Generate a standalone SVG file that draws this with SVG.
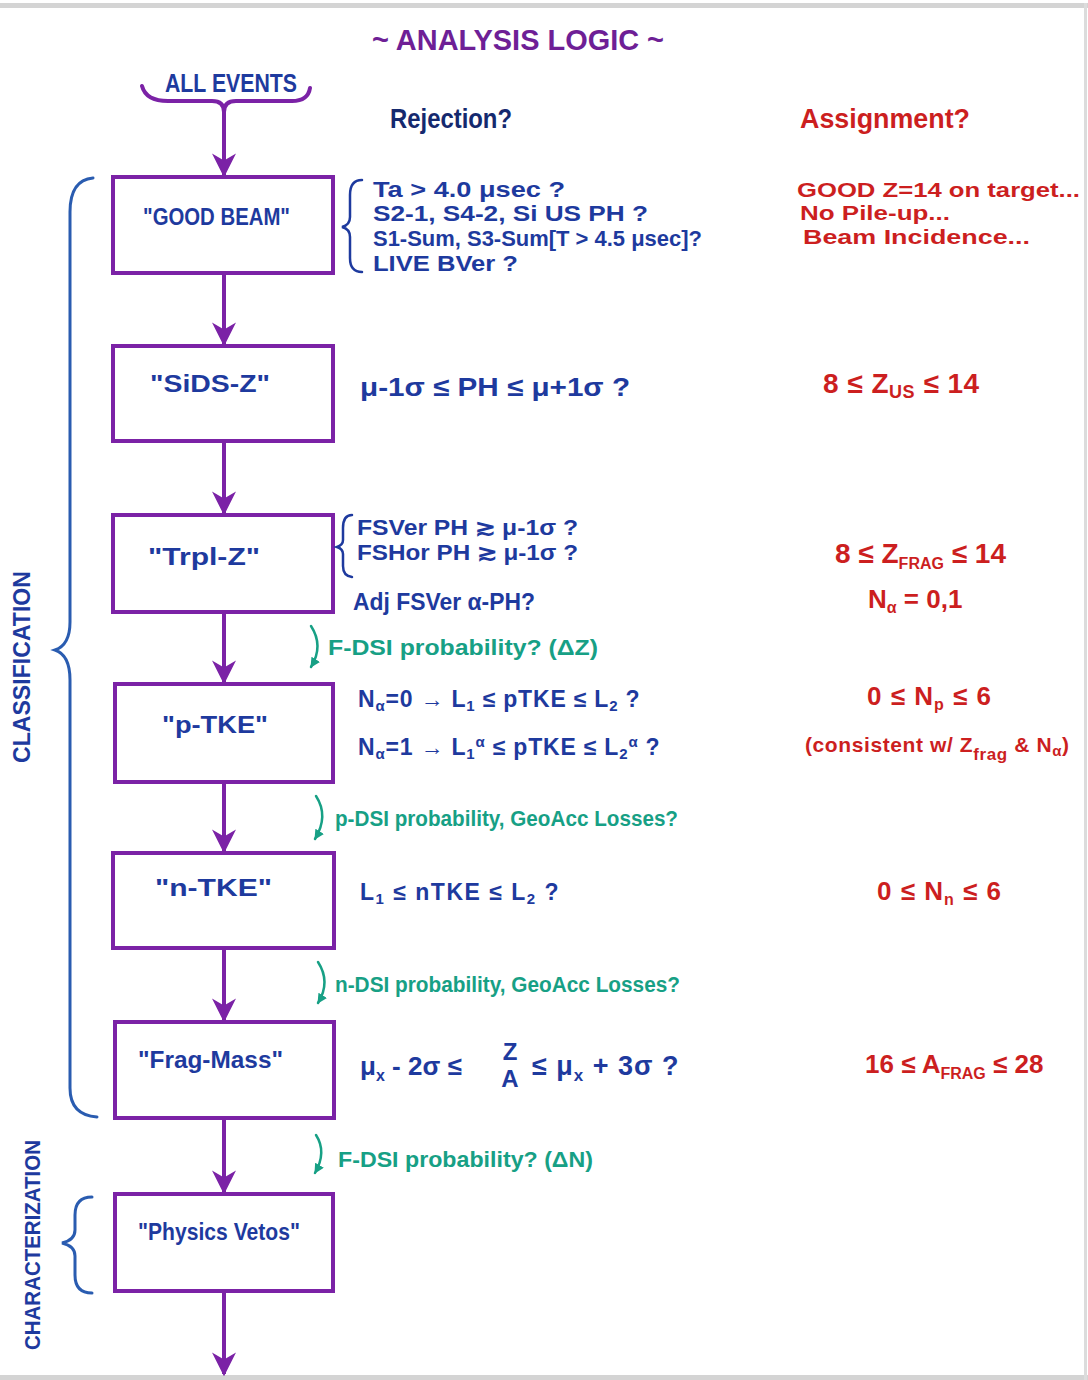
<svg xmlns="http://www.w3.org/2000/svg" width="1088" height="1380" viewBox="0 0 1088 1380">
<style>
.box{fill:#ffffff;stroke:#7b22a6;stroke-width:4}
.conn{stroke:#7b22a6;stroke-width:4;fill:none}
.t{font-family:"Liberation Sans",Arial,sans-serif;font-weight:bold}
.blue{fill:#1e3a9e}
.navy{fill:#15296e}
.red{fill:#cc1f1f}
.grn{fill:#17a085}
.purp{fill:#6e1f96}
.brace{fill:none;stroke:#2a5cb0;stroke-width:3;stroke-linecap:round}
.gcurve{fill:none;stroke:#17a085;stroke-width:2.5;stroke-linecap:round}
.rbrace{fill:none;stroke:#1e3a9e;stroke-width:2.5;stroke-linecap:round}
</style>
<defs>
<marker id="ah" viewBox="0 0 10 10" refX="9" refY="5" markerWidth="6" markerHeight="6" orient="auto" markerUnits="strokeWidth">
<path d="M0,0 L10,5 L0,10 L3,5 z" fill="#7b22a6"/>
</marker>
<marker id="gh" viewBox="0 0 10 10" refX="9" refY="5" markerWidth="4" markerHeight="4" orient="auto" markerUnits="strokeWidth">
<path d="M0,0 L10,5 L0,10 z" fill="#17a085"/>
</marker>
</defs>
<rect x="0" y="0" width="1088" height="1380" fill="#ffffff"/>
<rect x="0" y="3" width="1088" height="5" fill="#d4d4d4"/>
<rect x="0" y="1375" width="1088" height="5" fill="#d4d4d4"/>
<rect x="1084" y="3" width="3" height="1377" fill="#dcdcdc"/>

<text class="t purp" x="372" y="50" font-size="30" textLength="292" lengthAdjust="spacingAndGlyphs">~ ANALYSIS LOGIC ~</text>
<text class="t navy" x="390" y="128" font-size="28" textLength="122" lengthAdjust="spacingAndGlyphs">Rejection?</text>
<text class="t red" x="800" y="128" font-size="28" textLength="170" lengthAdjust="spacingAndGlyphs">Assignment?</text>

<g id="all-events">
<text class="t blue" x="165" y="92" font-size="26" textLength="132" lengthAdjust="spacingAndGlyphs">ALL EVENTS</text>
<path d="M142,86 Q146,101 168,101 L212,101 Q224,101 224,112 Q224,101 236,101 L292,101 Q308,101 310,88" fill="none" stroke="#7b22a6" stroke-width="4" stroke-linecap="round"/>
</g>

<g id="connectors">
<line class="conn" x1="224" y1="108" x2="224" y2="175" marker-end="url(#ah)"/>
<line class="conn" x1="224" y1="275" x2="224" y2="344" marker-end="url(#ah)"/>
<line class="conn" x1="224" y1="443" x2="224" y2="513" marker-end="url(#ah)"/>
<line class="conn" x1="224" y1="614" x2="224" y2="682" marker-end="url(#ah)"/>
<line class="conn" x1="224" y1="784" x2="224" y2="851" marker-end="url(#ah)"/>
<line class="conn" x1="224" y1="950" x2="224" y2="1020" marker-end="url(#ah)"/>
<line class="conn" x1="224" y1="1120" x2="224" y2="1192" marker-end="url(#ah)"/>
<line class="conn" x1="224" y1="1293" x2="224" y2="1374" marker-end="url(#ah)"/>
<path class="gcurve" d="M311,626 Q324,646 311,667" marker-end="url(#gh)"/>
<path class="gcurve" d="M316,796 Q329,816 315,839" marker-end="url(#gh)"/>
<path class="gcurve" d="M318,962 Q331,982 318,1003" marker-end="url(#gh)"/>
<path class="gcurve" d="M316,1135 Q327,1152 315,1173" marker-end="url(#gh)"/>
</g>

<g id="good-beam">
<rect class="box" x="113" y="177" width="220" height="96"/>
<text class="t blue" x="143" y="225" font-size="24" textLength="147" lengthAdjust="spacingAndGlyphs">"GOOD BEAM"</text>
</g>
<g id="good-beam-rejection">
<path class="rbrace" d="M362,180 Q350,180 350,195 L350,217 Q350,225 342,227 Q350,229 350,237 L350,258 Q350,272 362,272"/>
<text class="t blue" x="373" y="197" font-size="22" textLength="192" lengthAdjust="spacingAndGlyphs">Ta &gt; 4.0 μsec ?</text>
<text class="t blue" x="373" y="221" font-size="22" textLength="275" lengthAdjust="spacingAndGlyphs">S2-1, S4-2, Si US  PH ?</text>
<text class="t blue" x="373" y="246" font-size="22" textLength="329" lengthAdjust="spacingAndGlyphs">S1-Sum, S3-Sum[T &gt; 4.5 μsec]?</text>
<text class="t blue" x="373" y="271" font-size="22" textLength="145" lengthAdjust="spacingAndGlyphs">LIVE BVer ?</text>
</g>
<g id="good-beam-assignment">
<text class="t red" x="797" y="197" font-size="20" textLength="283" lengthAdjust="spacingAndGlyphs">GOOD Z=14 on target...</text>
<text class="t red" x="800" y="220" font-size="20" textLength="150" lengthAdjust="spacingAndGlyphs">No Pile-up...</text>
<text class="t red" x="803" y="244" font-size="20" textLength="227" lengthAdjust="spacingAndGlyphs">Beam Incidence...</text>
</g>

<g id="sids-z">
<rect class="box" x="113" y="346" width="220" height="95"/>
<text class="t blue" x="150" y="392" font-size="24" textLength="120" lengthAdjust="spacingAndGlyphs">"SiDS-Z"</text>
<text class="t blue" x="360" y="396" font-size="26" textLength="270" lengthAdjust="spacingAndGlyphs">μ-1σ ≤ PH ≤ μ+1σ ?</text>
<text class="t red" x="823" y="393" font-size="28" letter-spacing="0.5">8 ≤ Z<tspan font-size="18" dy="5">US</tspan><tspan dy="-5"> ≤ 14</tspan></text>
</g>

<g id="trpl-z">
<rect class="box" x="113" y="515" width="220" height="97"/>
<text class="t blue" x="148" y="565" font-size="24" textLength="112" lengthAdjust="spacingAndGlyphs">"Trpl-Z"</text>
<path class="rbrace" d="M352,515 Q343,515 343,528 L343,540 Q343,545 337,547 Q343,549 343,554 L343,566 Q343,576 352,577"/>
<text class="t blue" x="357" y="535" font-size="22" textLength="221" lengthAdjust="spacingAndGlyphs">FSVer PH ≳ μ-1σ ?</text>
<text class="t blue" x="357" y="560" font-size="22" textLength="221" lengthAdjust="spacingAndGlyphs">FSHor PH ≳ μ-1σ ?</text>
<text class="t blue" x="353" y="610" font-size="24" textLength="182" lengthAdjust="spacingAndGlyphs">Adj FSVer α-PH?</text>
<text class="t red" x="835" y="563" font-size="28">8 ≤ Z<tspan font-size="16" dy="6">FRAG</tspan><tspan dy="-6"> ≤ 14</tspan></text>
<text class="t red" x="868" y="608" font-size="26">N<tspan font-size="16" dy="5">α</tspan><tspan dy="-5"> = 0,1</tspan></text>
</g>
<text class="t grn" x="328" y="655" font-size="22" textLength="270" lengthAdjust="spacingAndGlyphs">F-DSI probability? (ΔZ)</text>

<g id="p-tke">
<rect class="box" x="115" y="684" width="218" height="98"/>
<text class="t blue" x="162" y="733" font-size="24" textLength="106" lengthAdjust="spacingAndGlyphs">"p-TKE"</text>
<text class="t blue" x="358" y="707" font-size="23" letter-spacing="0.8">N<tspan font-size="15" dy="4">α</tspan><tspan dy="-4">=0  →  L</tspan><tspan font-size="15" dy="4">1</tspan><tspan dy="-4"> ≤ pTKE ≤ L</tspan><tspan font-size="15" dy="4">2</tspan><tspan dy="-4">  ?</tspan></text>
<text class="t blue" x="358" y="755" font-size="23" letter-spacing="0.8">N<tspan font-size="15" dy="4">α</tspan><tspan dy="-4">=1  →  L</tspan><tspan font-size="15" dy="4">1</tspan><tspan font-size="15" dy="-12">α</tspan><tspan dy="8"> ≤ pTKE ≤ L</tspan><tspan font-size="15" dy="4">2</tspan><tspan font-size="15" dy="-12">α</tspan><tspan dy="8">  ?</tspan></text>
<text class="t red" x="867" y="705" font-size="26" letter-spacing="1">0 ≤ N<tspan font-size="16" dy="5">p</tspan><tspan dy="-5"> ≤ 6</tspan></text>
<text class="t red" x="805" y="752" font-size="21" letter-spacing="0.6">(consistent w/ Z<tspan font-size="17" dy="8">frag</tspan><tspan dy="-8"> &amp; N</tspan><tspan font-size="15" dy="4">α</tspan><tspan dy="-4">)</tspan></text>
</g>
<text class="t grn" x="335" y="826" font-size="22" textLength="343" lengthAdjust="spacingAndGlyphs">p-DSI probability, GeoAcc Losses?</text>

<g id="n-tke">
<rect class="box" x="113" y="853" width="221" height="95"/>
<text class="t blue" x="155" y="896" font-size="24" textLength="117" lengthAdjust="spacingAndGlyphs">"n-TKE"</text>
<text class="t blue" x="360" y="900" font-size="23" letter-spacing="1.5">L<tspan font-size="15" dy="4">1</tspan><tspan dy="-4"> ≤ nTKE ≤ L</tspan><tspan font-size="15" dy="4">2</tspan><tspan dy="-4"> ?</tspan></text>
<text class="t red" x="877" y="900" font-size="26" letter-spacing="1">0 ≤ N<tspan font-size="16" dy="5">n</tspan><tspan dy="-5"> ≤ 6</tspan></text>
</g>
<text class="t grn" x="335" y="992" font-size="22" textLength="345" lengthAdjust="spacingAndGlyphs">n-DSI probability, GeoAcc Losses?</text>

<g id="frag-mass">
<rect class="box" x="115" y="1022" width="219" height="96"/>
<text class="t blue" x="138" y="1068" font-size="24" textLength="145" lengthAdjust="spacingAndGlyphs">"Frag-Mass"</text>
<text class="t blue" x="360" y="1075" font-size="26">μ<tspan font-size="16" dy="6">x</tspan><tspan dy="-6"> - 2σ  ≤</tspan></text>
<text class="t blue" x="510" y="1060" font-size="24" text-anchor="middle">Z</text>
<text class="t blue" x="510" y="1087" font-size="24" text-anchor="middle">A</text>
<text class="t blue" x="532" y="1075" font-size="27" letter-spacing="1">≤ μ<tspan font-size="17" dy="6">x</tspan><tspan dy="-6"> + 3σ  ?</tspan></text>
<text class="t red" x="865" y="1073" font-size="26">16 ≤ A<tspan font-size="16" dy="6">FRAG</tspan><tspan dy="-6"> ≤ 28</tspan></text>
</g>
<text class="t grn" x="338" y="1167" font-size="22" textLength="255" lengthAdjust="spacingAndGlyphs">F-DSI probability? (ΔN)</text>

<g id="physics-vetos">
<rect class="box" x="115" y="1194" width="218" height="97"/>
<text class="t blue" x="138" y="1240" font-size="24" textLength="162" lengthAdjust="spacingAndGlyphs">"Physics Vetos"</text>
</g>

<g id="classification">
<path class="brace" d="M93,178 Q70,180 70,212 L70,622 Q70,645 55,650 Q70,655 70,680 L70,1088 Q70,1115 97,1117"/>
<text class="t blue" transform="translate(30,667) rotate(-90)" font-size="24" text-anchor="middle" textLength="192" lengthAdjust="spacingAndGlyphs">CLASSIFICATION</text>
</g>
<g id="characterization">
<path class="brace" d="M92,1197 Q75,1197 75,1215 L75,1230 Q75,1240 62,1243 Q75,1246 75,1256 L75,1275 Q75,1293 92,1293"/>
<text class="t blue" transform="translate(40,1245) rotate(-90)" font-size="22" text-anchor="middle" textLength="210" lengthAdjust="spacingAndGlyphs">CHARACTERIZATION</text>
</g>
</svg>
